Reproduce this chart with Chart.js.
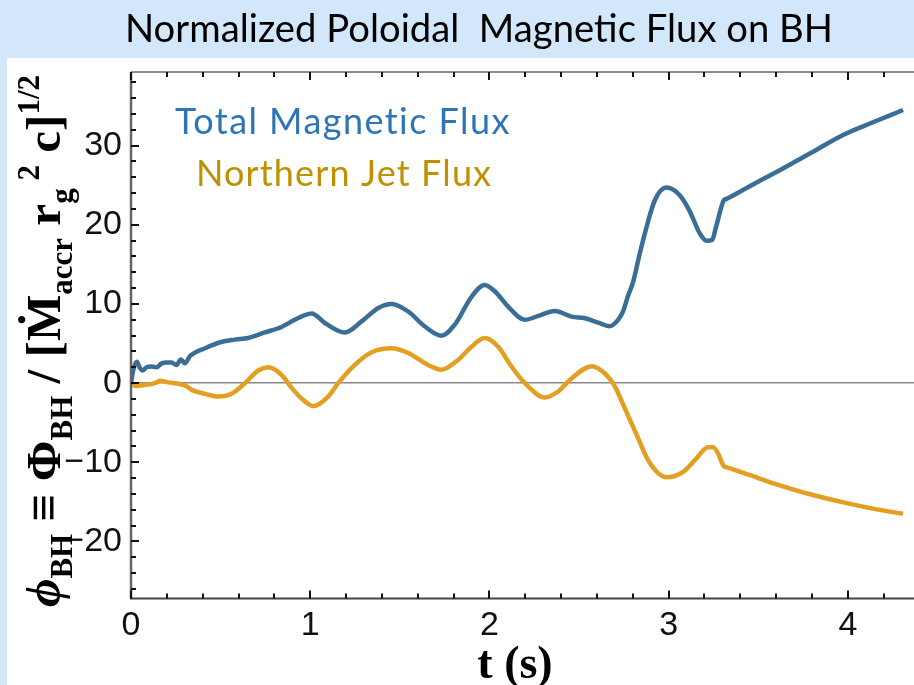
<!DOCTYPE html>
<html>
<head>
<meta charset="utf-8">
<title>Normalized Poloidal Magnetic Flux on BH</title>
<script src="https://cdn.jsdelivr.net/npm/chart.js@4.4.1/dist/chart.umd.min.js"></script>
<style>
  html, body { margin: 0; padding: 0; background: #ffffff; }
  #wrap { width: 914px; height: 685px; position: relative; }
  canvas { display: block; }
</style>
</head>
<body>
<div id="wrap"><canvas id="chart" width="914" height="685"></canvas></div>
<script>
// Time (s) and normalized flux samples for each curve
const totalTime = [0, 0.012, 0.032, 0.048, 0.063, 0.087, 0.113, 0.143, 0.171, 0.198, 0.226, 0.254, 0.278, 0.301, 0.329,
  0.413, 0.503, 0.580, 0.654, 0.747, 0.840, 0.913, 0.970, 1.008, 1.082, 1.193, 1.287, 1.380, 1.454, 1.547, 1.640,
  1.733, 1.807, 1.900, 1.973, 2.030, 2.103, 2.198, 2.273, 2.365, 2.458, 2.533, 2.607, 2.668, 2.718, 2.746, 2.773,
  2.802, 2.833, 2.867, 2.923, 2.988, 3.063, 3.118, 3.174, 3.211, 3.243, 3.263, 3.308, 3.320, 3.450, 3.620, 3.800,
  3.973, 4.140, 4.308];
const totalFlux = [0.0, 1.6, 2.7, 2.0, 1.6, 2.0, 2.1, 2.0, 2.5, 2.6, 2.6, 2.3, 3.0, 2.5, 3.4,
  4.4, 5.2, 5.5, 5.7, 6.4, 7.1, 8.0, 8.6, 8.8, 7.6, 6.4, 7.8, 9.5, 10.0, 9.05, 7.15,
  6.0, 7.4, 10.9, 12.4, 11.6, 9.7, 8.0, 8.5, 9.1, 8.4, 8.2, 7.65, 7.2, 8.0, 9.1, 11.0,
  12.8, 15.8, 18.9, 23.1, 24.7, 23.7, 21.7, 18.9, 18.0, 18.1, 19.6, 23.1, 23.25, 24.85, 26.9, 29.15,
  31.35, 32.95, 34.5];

const jetTime = [0, 0.007, 0.033, 0.078, 0.115, 0.143, 0.162, 0.208, 0.273, 0.310, 0.338, 0.413, 0.487, 0.561,
  0.636, 0.710, 0.766, 0.840, 0.896, 0.970, 1.018, 1.100, 1.156, 1.249, 1.343, 1.454, 1.547, 1.658, 1.733, 1.826,
  1.900, 1.973, 2.049, 2.123, 2.198, 2.309, 2.383, 2.458, 2.573, 2.643, 2.700, 2.746, 2.821, 2.895, 2.988, 3.081,
  3.155, 3.219, 3.248, 3.276, 3.308, 3.320, 3.450, 3.620, 3.800, 3.993, 4.140, 4.308];
const jetFlux = [0.0, -0.2, -0.35, -0.2, -0.1, 0.1, 0.3, 0.1, -0.1, -0.4, -0.85, -1.35, -1.7, -1.35,
  0.0, 1.6, 2.0, 1.05, -0.6, -2.3, -2.9, -1.7, 0.0, 2.3, 3.9, 4.4, 3.8, 2.3, 1.7, 2.95,
  4.6, 5.7, 4.6, 2.1, 0.0, -1.8, -1.05, 0.6, 2.15, 1.25, -0.4, -2.7, -6.5, -10.1, -11.9, -11.2,
  -9.5, -8.1, -8.1, -8.9, -10.5, -10.6, -11.6, -12.9, -14.1, -15.15, -15.85, -16.5];

const seriesNames = ['Total Magnetic Flux', 'Northern Jet Flux'];
const xTickValues = [0, 1, 2, 3, 4];
const yTickValues = [-20, -10, 0, 10, 20, 30];
const chartTitle = 'Normalized Poloidal  Magnetic Flux on BH';
const xAxisTitle = 't (s)';
// y-axis title pieces: [text, role] where role is lead / main / sub / sup
const yAxisTitleParts = [
  ['ϕ', 'lead'], ['BH', 'sub'], [' ≡ Φ', 'main'], ['BH', 'sub'], [' / [Ṁ', 'main'], ['accr', 'sub'],
  [' r', 'main'], ['g', 'sub'], [' 2', 'sup'], [' c]', 'main'], ['1/2', 'sup']
];

const lineColors = ['#3b6e96', '#e39f22'];
const labelColors = ['#2e75b6', '#bf9000'];

const sansFont = "'Liberation Sans', Arial, sans-serif";
const serifFont = "'Liberation Serif', 'DejaVu Serif', serif";
const textFont = "Lato, 'Open Sans', sans-serif";

const toPoints = (ts, vs) => ts.map((t, i) => ({ x: t, y: vs[i] }));

// Draws text starting at x so that it spans the given width (spacing adjusted)
function fitText(ctx, text, x, y, width) {
  ctx.letterSpacing = '0px';
  const w = ctx.measureText(text).width;
  const gap = (width - w) / Math.max(1, text.length - 1);
  ctx.letterSpacing = gap.toFixed(2) + 'px';
  ctx.fillText(text, x, y);
  ctx.letterSpacing = '0px';
}

// Page background: light-blue banner behind the title, white panel for the plot
const backgroundPlugin = {
  id: 'pageBackground',
  beforeDraw(chart) {
    const ctx = chart.ctx;
    ctx.save();
    ctx.fillStyle = '#d3e7fb';
    ctx.fillRect(0, 0, chart.width, chart.height);
    ctx.fillStyle = '#ffffff';
    ctx.fillRect(7, 58, chart.width - 7, chart.height - 58);
    ctx.restore();
  }
};

// Frame lines and inward-pointing major/minor tick marks
const framePlugin = {
  id: 'frameTicks',
  afterDatasetsDraw(chart) {
    const ctx = chart.ctx;
    const a = chart.chartArea;
    const xs = chart.scales.x, ys = chart.scales.y;
    ctx.save();
    ctx.lineCap = 'butt';
    ctx.strokeStyle = '#8c8c8c';
    ctx.lineWidth = 2;
    ctx.beginPath(); ctx.moveTo(a.left, a.top); ctx.lineTo(a.right, a.top); ctx.stroke();
    ctx.strokeStyle = '#666666';
    ctx.lineWidth = 2.5;
    ctx.beginPath(); ctx.moveTo(a.left, a.top); ctx.lineTo(a.left, a.bottom); ctx.stroke();
    ctx.strokeStyle = '#444444';
    ctx.lineWidth = 2;
    ctx.beginPath(); ctx.moveTo(a.left - 1, a.bottom); ctx.lineTo(a.right, a.bottom); ctx.stroke();

    ctx.strokeStyle = '#111111';
    ctx.lineWidth = 2;
    for (let i = 0; i <= 22; i++) {
      const v = i * 0.2;
      if (v > xs.max) break;
      const px = Math.round(xs.getPixelForValue(v));
      const len = (i % 5 === 0) ? 8 : 5;
      ctx.beginPath(); ctx.moveTo(px, a.bottom); ctx.lineTo(px, a.bottom - len); ctx.stroke();
      ctx.beginPath(); ctx.moveTo(px, a.top); ctx.lineTo(px, a.top + len); ctx.stroke();
    }
    for (let v = -26; v <= 38; v += 2) {
      const py = Math.round(ys.getPixelForValue(v));
      const len = (v % 10 === 0) ? 8 : 5;
      ctx.beginPath(); ctx.moveTo(a.left, py); ctx.lineTo(a.left + len, py); ctx.stroke();
    }
    ctx.restore();
  }
};

// Title, in-plot series labels and axis titles
const textPlugin = {
  id: 'chartTexts',
  afterDraw(chart) {
    const ctx = chart.ctx;
    ctx.save();
    // title
    ctx.fillStyle = '#000000';
    ctx.font = `39px ${textFont}`;
    ctx.textAlign = 'center';
    ctx.textBaseline = 'alphabetic';
    ctx.fillText(chartTitle, 479, 42, 708);

    // series labels
    ctx.textAlign = 'left';
    ctx.font = `36px ${textFont}`;
    const labelPos = [[175, 134, 335], [196, 186, 295]];
    chart.data.datasets.forEach((ds, i) => {
      ctx.fillStyle = labelColors[i];
      fitText(ctx, ds.label, labelPos[i][0], labelPos[i][1], labelPos[i][2]);
    });

    // x-axis title
    ctx.fillStyle = '#000000';
    ctx.textAlign = 'center';
    ctx.font = `bold 46px ${serifFont}`;
    ctx.fillText(xAxisTitle, 515, 678);

    // y-axis title, rotated, with sub/superscripts
    const base = 46;
    const fontFor = (role, size) => {
      if (role === 'lead') return `italic bold ${size}px ${serifFont}`;
      if (role === 'main') return `bold ${size}px ${serifFont}`;
      return `bold ${Math.round(size * 0.64)}px ${serifFont}`;
    };
    const measure = (size) => yAxisTitleParts.reduce((w, [txt, role]) => {
      ctx.font = fontFor(role, size);
      return w + ctx.measureText(txt).width;
    }, 0);
    const target = 532;
    const size = base * target / measure(base);
    ctx.translate(60, 607);
    ctx.rotate(-Math.PI / 2);
    ctx.textAlign = 'left';
    let cx = 0;
    yAxisTitleParts.forEach(([txt, role]) => {
      ctx.font = fontFor(role, size);
      const dy = role === 'sub' ? size * 0.24 : role === 'sup' ? -size * 0.42 : 0;
      ctx.fillText(txt, cx, dy);
      cx += ctx.measureText(txt).width;
    });
    ctx.restore();
  }
};

const minusLabel = (v) => (v < 0 ? '\u2212' + Math.abs(v) : String(v));

new Chart(document.getElementById('chart'), {
  type: 'line',
  data: {
    datasets: [
      {
        label: seriesNames[0],
        data: toPoints(totalTime, totalFlux),
        borderColor: lineColors[0],
        borderWidth: 4.5,
        pointRadius: 0,
        cubicInterpolationMode: 'monotone',
        fill: false
      },
      {
        label: seriesNames[1],
        data: toPoints(jetTime, jetFlux),
        borderColor: lineColors[1],
        borderWidth: 4.5,
        pointRadius: 0,
        cubicInterpolationMode: 'monotone',
        fill: false
      }
    ]
  },
  options: {
    responsive: false,
    animation: false,
    devicePixelRatio: 1,
    events: [],
    layout: { padding: { top: 72, left: 0, right: 0, bottom: 0 } },
    plugins: { legend: { display: false }, tooltip: { enabled: false }, title: { display: false } },
    scales: {
      x: {
        type: 'linear',
        min: 0,
        max: 4.369,
        afterBuildTicks: (s) => { s.ticks = xTickValues.map(v => ({ value: v })); },
        afterFit: (s) => { s.height = 86.5; },
        grid: { display: false, drawTicks: false },
        border: { display: false },
        ticks: { font: { family: sansFont, size: 34 }, color: '#111111', padding: 7, maxRotation: 0, autoSkip: false }
      },
      y: {
        type: 'linear',
        min: -27.2,
        max: 39.3,
        afterBuildTicks: (s) => { s.ticks = yTickValues.map(v => ({ value: v })); },
        afterFit: (s) => { s.width = 131; },
        grid: {
          drawTicks: false,
          lineWidth: 1.5,
          color: (c) => (c.tick && c.tick.value === 0 ? '#8a8a8a' : 'rgba(0,0,0,0)')
        },
        border: { display: false },
        ticks: { font: { family: sansFont, size: 34 }, color: '#111111', padding: 9, callback: minusLabel }
      }
    }
  },
  plugins: [backgroundPlugin, framePlugin, textPlugin]
});
</script>
</body>
</html>
